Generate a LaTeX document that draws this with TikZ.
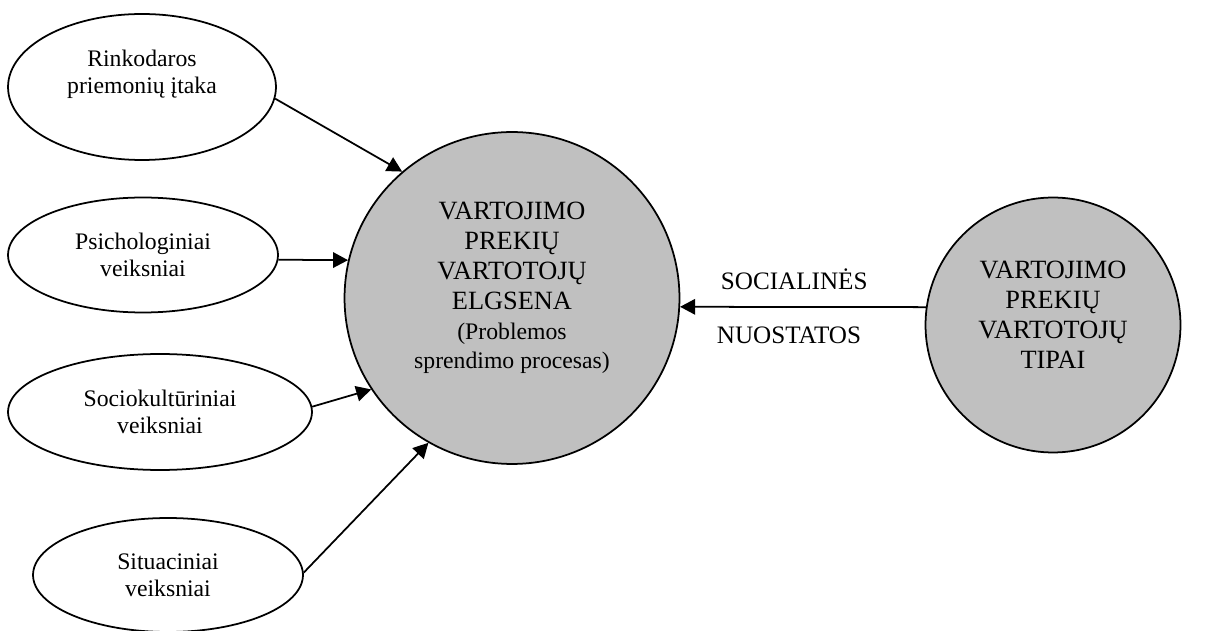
\documentclass[tikz,border=0pt]{standalone}
\usepackage{fontspec}
\setmainfont{Liberation Serif}
\usetikzlibrary{shapes.geometric,arrows.meta}
\definecolor{silver}{HTML}{C0C0C0}
\tikzstyle{factor}=[
	draw=black,
	shape=ellipse,
	line width=1pt,
	align=center,
	inner sep=0pt,
	font=\fontsize{13.5}{15.6}\selectfont
]
\tikzstyle{hub}=[factor, fill=silver, font=\fontsize{15}{17}\selectfont]
\tikzstyle{infl} = [draw,line width=1pt,-{Triangle[length=3mm,width=3.1mm]}]
\tikzstyle{tag} = [font=\fontsize{14.3}{17}\selectfont]
\newcommand{\smalltxt}{\fontsize{13.5}{16}\selectfont}

\begin{document}
\begin{tikzpicture}[x=0.02cm,y=-0.02cm]
			
				\useasboundingbox (0,0) rectangle (1210,631);
				
				\node[factor, minimum width=5.36cm, minimum height=2.92cm, text depth=0.6cm]	(rink) at (142,87) {Rinkodaros\\priemonių įtaka};
				\node[factor, minimum width=5.4cm, minimum height=2.3cm]	(psich) at (143,255) {Psichologiniai\\veiksniai};
				\node[factor, minimum width=6.08cm, minimum height=2.32cm]	(socio) at (160,412) {Sociokultūriniai\\veiksniai};
				\node[factor, minimum width=5.4cm, minimum height=2.28cm]	(situ) at (168,575) {Situaciniai\\veiksniai};
				\node[hub, minimum width=6.7cm, minimum height=6.64cm, text depth=0.5cm]	(elg) at (512,298) {VARTOJIMO\\PREKIŲ\\VARTOTOJŲ\\ELGSENA\\\smalltxt (Problemos\\\smalltxt sprendimo procesas)};
				\node[hub, minimum width=5.1cm, minimum height=5.1cm, text depth=0.4cm]	(tipai) at (1053,325) {VARTOJIMO\\PREKIŲ\\VARTOTOJŲ\\TIPAI};
				
				\draw[infl] (rink.-5) -- (elg.131);
				\draw[infl] (psich.-2) -- (elg.167);
				\draw[infl] (socio.2) -- (elg.213);
				\draw[infl] (situ.1) -- (elg.240);
				
				\draw[infl] (tipai.172) -- node[tag, above=2mm, xshift=-5pt] {SOCIALINĖS} node[tag, below=2.6mm, xshift=-8pt] {NUOSTATOS} (elg.357);
			
			\end{tikzpicture}
\end{document}
